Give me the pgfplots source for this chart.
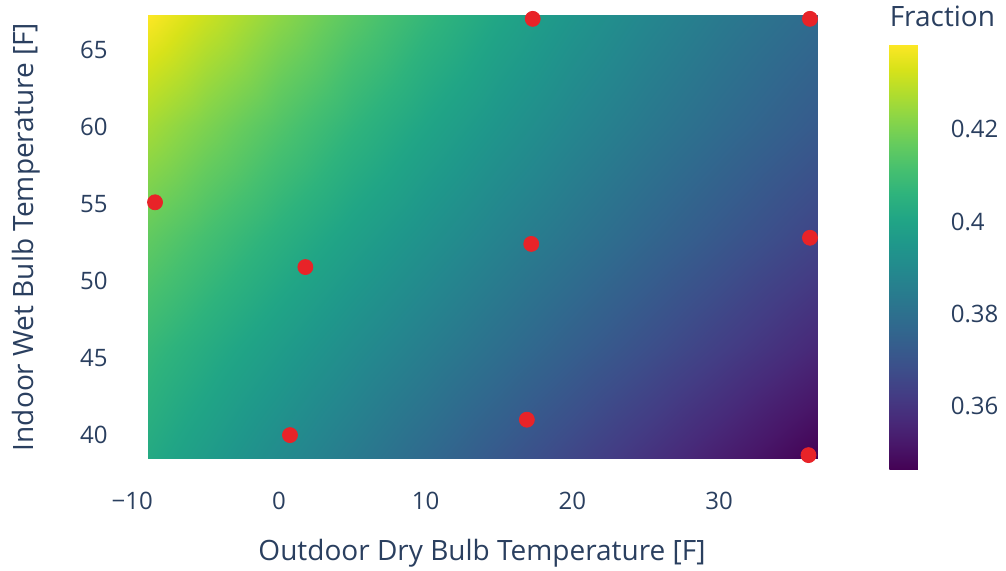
\documentclass[border=0pt]{standalone}
\usepackage{fontspec}
\setmainfont{Open Sans}
\usepackage{pgfplots}
\pgfplotsset{compat=1.18}
\usepackage{pgfplotstable}
\definecolor{ptxt}{RGB}{42,63,95}
\definecolor{pred}{RGB}{232,35,40}

\pgfplotstableread{
x y f
-8.9 38.45 0.4020
-5 38.45 0.3968
0 38.45 0.3903
5 38.45 0.3839
10 38.45 0.3776
15 38.45 0.3714
20 38.45 0.3654
25 38.45 0.3595
30 38.45 0.3537
36.7 38.45 0.3461
-8.9 45.65 0.4079
-5 45.65 0.4031
0 45.65 0.3971
5 45.65 0.3911
10 45.65 0.3853
15 45.65 0.3796
20 45.65 0.3740
25 45.65 0.3686
30 45.65 0.3633
36.7 45.65 0.3563
-8.9 52.85 0.4160
-5 52.85 0.4110
0 52.85 0.4048
5 52.85 0.3987
10 52.85 0.3929
15 52.85 0.3872
20 52.85 0.3818
25 52.85 0.3765
30 52.85 0.3715
36.7 52.85 0.3650
-8.9 60.05 0.4262
-5 60.05 0.4204
0 60.05 0.4134
5 60.05 0.4066
10 60.05 0.4002
15 60.05 0.3942
20 60.05 0.3885
25 60.05 0.3832
30 60.05 0.3783
36.7 60.05 0.3722
-8.9 67.25 0.4385
-5 67.25 0.4314
0 67.25 0.4228
5 67.25 0.4148
10 67.25 0.4074
15 67.25 0.4006
20 67.25 0.3944
25 67.25 0.3888
30 67.25 0.3838
36.7 67.25 0.3780
}\fieldtable

\pgfplotstableread{
x y
-8.45 55.1
1.8 50.9
0.75 40.0
17.2 52.4
17.3 67.0
16.9 41.0
36.2 67.0
36.2 52.8
36.1 38.7
}\pointtable

\begin{document}
\begin{tikzpicture}
\path[use as bounding box] (-66.15pt,-56pt) rectangle (436.85pt,229.5pt);
\begin{axis}[
  scale only axis,
  width=342.5pt, height=222pt,
  xmin=-10, xmax=36.7, ymin=38.45, ymax=67.25,
  clip=false,
  axis line style={draw=none},
  major tick length=0pt,
  xtick={-10,0,10,20,30},
  xticklabels={−10,0,10,20,30},
  ytick={40,45,50,55,60,65},
  yticklabels={40,45,50,55,60,65},
  xticklabel style={font=\fontsize{12}{14}\selectfont, text=ptxt, anchor=north, inner sep=0pt, yshift=-16.5pt},
  yticklabel style={font=\fontsize{12}{14}\selectfont, text=ptxt, anchor=east, inner sep=0pt, xshift=-12.15pt},
  xlabel={Outdoor Dry Bulb Temperature [F]},
  ylabel={Indoor Wet Bulb Temperature [F]},
  xlabel style={font=\fontsize{14}{16}\selectfont, text=ptxt, at={(axis description cs:0.5105,0)}, anchor=center, yshift=-47pt},
  ylabel style={font=\fontsize{14}{16}\selectfont, text=ptxt, at={(axis description cs:-0.1552,0.5)}, anchor=center},
  colormap name=viridis,
  point meta min=0.3461, point meta max=0.4385,
  colorbar,
  colorbar style={
    scale only axis,
    at={(parent axis.north east)}, anchor=north west,
    xshift=27.5pt, yshift=-14.5pt,
    width=28pt, height=213pt,
    axis line style={draw=none},
    major tick length=0pt,
    ytick={0.36,0.38,0.4,0.42},
    yticklabels={0.36,0.38,0.4,0.42},
    yticklabel style={font=\fontsize{12}{14}\selectfont, text=ptxt, anchor=west, inner sep=0pt, xshift=2.5pt},
    after end axis/.code={
      \node[font=\fontsize{14}{16}\selectfont, text=ptxt, anchor=base west, inner sep=0pt]
        at ([yshift=8.5pt]rel axis cs:0,1) {Fraction};
    },
  },
]
\addplot[surf, shader=interp, mesh/cols=10, mesh/rows=5, point meta=explicit]
  table[x=x, y=y, meta=f] {\fieldtable};
\addplot[only marks, mark=*, mark size=3.75pt, color=pred, draw=pred, fill=pred]
  table[x=x, y=y] {\pointtable};
\end{axis}
\end{tikzpicture}
\end{document}
